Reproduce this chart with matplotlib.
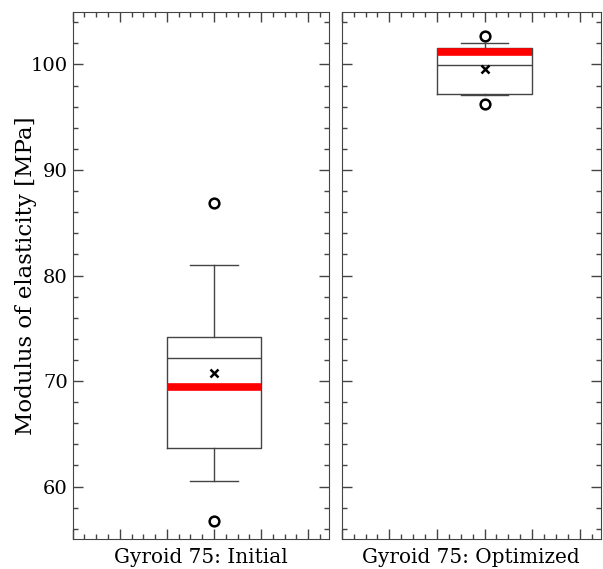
import matplotlib
matplotlib.use('Agg')
import matplotlib.pyplot as plt
from matplotlib.ticker import MultipleLocator

# Five-number summaries read per specimen group
groups = ['Gyroid 75: Initial', 'Gyroid 75: Optimized']
q1 = [63.66, 97.23]
median = [72.22, 99.97]
q3 = [74.15, 101.54]
whislo = [60.57, 97.07]
whishi = [80.95, 102.01]
mean = [70.75, 99.53]
fliers = [[86.84, 56.72], [102.67, 96.22]]
# Red reference line inside each box
reference = [69.42, 101.2]

plt.rcParams['font.family'] = 'DejaVu Serif'

fig = plt.figure(figsize=(6.03, 5.69), dpi=100)
ax1 = fig.add_axes([0.1206, 0.0522, 0.425, 0.9272])
ax2 = fig.add_axes([0.5667, 0.0522, 0.4295, 0.9272], sharey=ax1)

box_w = 0.5
edge = '#444444'

for i, ax in enumerate([ax1, ax2]):
    stats = [dict(med=median[i], q1=q1[i], q3=q3[i], whislo=whislo[i],
                  whishi=whishi[i], mean=mean[i], fliers=fliers[i])]
    ax.bxp(stats, positions=[1], widths=box_w, showmeans=True,
           boxprops=dict(color=edge, lw=1.0),
           whiskerprops=dict(color=edge, lw=1.0),
           capprops=dict(color=edge, lw=1.0),
           medianprops=dict(color=edge, lw=1.0),
           meanprops=dict(marker='x', markeredgecolor='black', markersize=6,
                          markeredgewidth=1.8),
           flierprops=dict(marker='o', markerfacecolor='none',
                           markeredgecolor='black', markersize=7,
                           markeredgewidth=1.8))
    ax.hlines(reference[i], 1 - box_w / 2, 1 + box_w / 2, color='red', lw=5.5,
              zorder=3)
    ax.set_xlim(0.25, 1.61)
    ax.set_ylim(55, 105)
    ax.xaxis.set_major_locator(MultipleLocator(0.25))
    ax.xaxis.set_minor_locator(MultipleLocator(0.0625))
    ax.yaxis.set_major_locator(MultipleLocator(10))
    ax.yaxis.set_minor_locator(MultipleLocator(2))
    ax.tick_params(which='both', direction='in', top=True, right=True,
                   color=edge, labelbottom=False)
    ax.tick_params(which='major', length=7, width=1.0)
    ax.tick_params(which='minor', length=3.5, width=1.0)
    ax.tick_params(axis='y', labelsize=14)
    for s in ax.spines.values():
        s.set_color(edge)
    ax.set_xlabel(groups[i], fontsize=14.4, labelpad=6)

ax2.tick_params(labelleft=False)
ax1.set_ylabel('Modulus of elasticity [MPa]', fontsize=16.5)
ax1.yaxis.set_label_coords(-0.14, 0.5)

fig.savefig('out.png', dpi=100)
